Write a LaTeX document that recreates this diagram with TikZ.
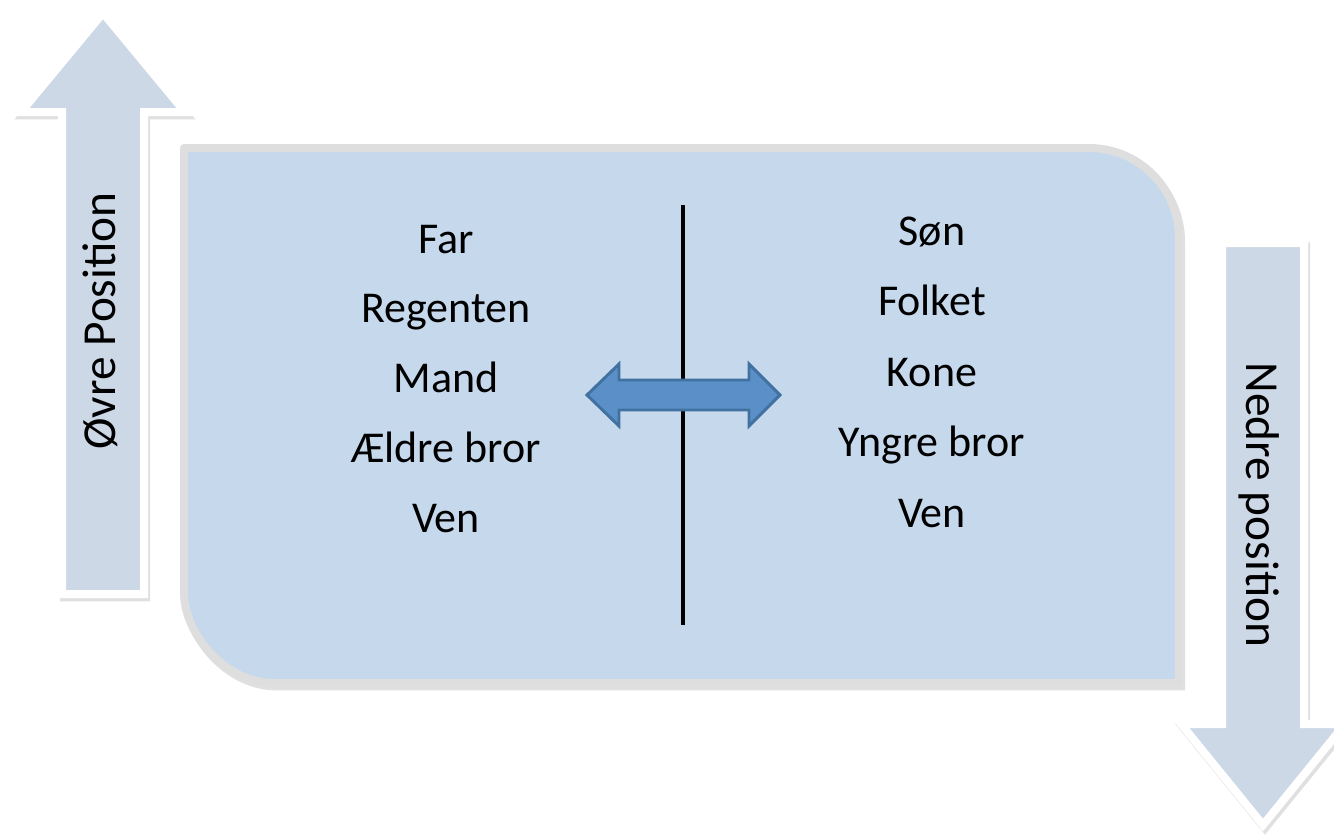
\documentclass[tikz,border=0pt]{standalone}
\usepackage{fontspec}
\setmainfont{Carlito}
\definecolor{boxfill}{RGB}{197,216,236}
\definecolor{boxborder}{RGB}{222,222,222}
\definecolor{arrowfill}{RGB}{205,216,230}
\definecolor{darrowfill}{RGB}{91,143,199}
\definecolor{darrowline}{RGB}{65,113,160}
\tikzset{
  bigbox/.style={fill=boxfill, draw=boxborder, line width=6pt, line join=round},
  bigarrow/.style={fill=arrowfill, draw=white, line width=6pt, line join=miter},
  shadowstyle/.style={fill=black!40, draw=black!40, line width=6pt, opacity=0.3},
  darrow/.style={fill=darrowfill, draw=darrowline, line width=2.2pt, line join=miter},
  divider/.style={draw=black, line width=3.6pt},
  word/.style={anchor=base, inner sep=0pt, font=\fontsize{33}{40}\selectfont},
  sideword/.style={anchor=base, inner sep=0pt, font=\fontsize{35.5}{42}\selectfont}
}
\begin{document}
\begin{tikzpicture}[x=0.75pt, y=-0.75pt]
\useasboundingbox (0,0) rectangle (1334,835);
% left arrow
\path[shadowstyle, xshift=1.5pt, yshift=-2.5pt]
  (62,594) -- (62,112) -- (21,112) -- (103,13) -- (185,112) -- (144,112) -- (144,594) -- cycle;
\path[bigarrow]
  (62,594) -- (62,112) -- (21,112) -- (103,13) -- (185,112) -- (144,112) -- (144,594) -- cycle;
% right arrow
\path[shadowstyle, xshift=1.5pt, yshift=-2.5pt]
  (1222,243) -- (1304,243) -- (1304,724) -- (1345,724) -- (1263,825) -- (1181,724) -- (1222,724) -- cycle;
\path[bigarrow]
  (1222,243) -- (1304,243) -- (1304,724) -- (1345,724) -- (1263,825) -- (1181,724) -- (1222,724) -- cycle;
% main box
\path[shadowstyle, xshift=1.5pt, yshift=-2.5pt]
  (184,148) -- (1089,148) .. controls (1138.7,148) and (1179,188.3) .. (1179,238)
  -- (1179,683) -- (274,683) .. controls (224.3,683) and (184,632.7) .. (184,593) -- cycle;
\path[bigbox]
  (184,148) -- (1089,148) .. controls (1138.7,148) and (1179,188.3) .. (1179,238)
  -- (1179,683) -- (274,683) .. controls (224.3,683) and (184,632.7) .. (184,593) -- cycle;
% divider
\coordinate (dtop) at (683,205);
\coordinate (dbot) at (683,625);
\draw[divider] (dtop) -- (dbot);
% double arrow
\path[darrow] (587,395) -- (619,364) -- (619,380) -- (749,380) -- (749,364) -- (780,395)
  -- (749,426) -- (749,410) -- (619,410) -- (619,426) -- cycle;
% left column
\node[word] (l1) at (446,253) {Far};
\node[word] (l2) at (446,322.5) {Regenten};
\node[word] (l3) at (446,392) {Mand};
\node[word] (l4) at (446,462) {Ældre bror};
\node[word] (l5) at (446,532) {Ven};
% right column
\node[word] (r1) at (932,245) {Søn};
\node[word] (r2) at (932,315.5) {Folket};
\node[word] (r3) at (932,386) {Kone};
\node[word] (r4) at (932,456.5) {Yngre bror};
\node[word] (r5) at (932,527) {Ven};
% side labels
\node[sideword, rotate=90] (up) at (115,321) {Øvre Position};
\node[sideword, rotate=-90] (down) at (1246,505) {Nedre position};
\end{tikzpicture}
\end{document}
